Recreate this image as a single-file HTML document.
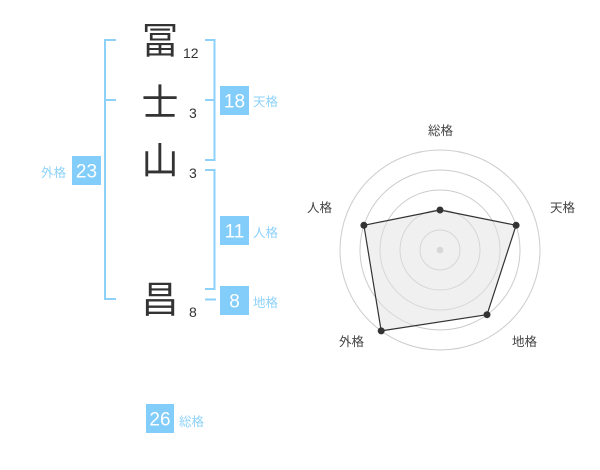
<!DOCTYPE html>
<html><head><meta charset="utf-8"><style>
html,body{margin:0;padding:0;background:#fff;}
svg{display:block;}
text{font-family:"Liberation Sans","Noto Sans CJK JP",sans-serif;}
</style></head><body>
<svg width="600" height="470" viewBox="0 0 600 470" xmlns="http://www.w3.org/2000/svg">
<!-- kanji -->
<g fill="#333" font-size="37" text-anchor="middle" dominant-baseline="central" style="font-family:'Noto Sans CJK JP',sans-serif">
<text x="160" y="41">冨</text>
<text x="160" y="103">士</text>
<text x="160" y="161">山</text>
<text x="160" y="300">昌</text>
</g>
<g fill="#333" font-size="14">
<text x="183" y="58">12</text>
<text x="189" y="118">3</text>
<text x="189" y="178">3</text>
<text x="189" y="317">8</text>
</g>
<!-- brackets -->
<g stroke="#8dd0f8" stroke-width="2" fill="none">
<polyline points="116,40 105,40 105,299 116,299"/>
<line x1="105" y1="100" x2="116" y2="100"/>
<polyline points="205,40 214.5,40 214.5,160 205,160"/>
<line x1="205" y1="100" x2="214.5" y2="100"/>
<polyline points="205,170 214.5,170 214.5,289 205,289"/>
<line x1="205" y1="299.5" x2="216" y2="299.5"/>
</g>
<!-- boxes -->
<g fill="#82cdf9">
<rect x="72" y="156" width="29" height="29"/>
<rect x="220" y="86" width="29" height="29"/>
<rect x="220" y="216" width="29" height="29"/>
<rect x="220" y="286" width="29" height="29"/>
<rect x="146" y="404" width="28" height="29"/>
</g>
<g fill="#fff" font-size="19" text-anchor="middle">
<text x="86.5" y="177.5">23</text>
<text x="234.5" y="107.5">18</text>
<text x="234.5" y="237.5">11</text>
<text x="234.5" y="307.5">8</text>
<text x="160" y="425.5">26</text>
</g>
<g fill="#8ed2fa" font-size="12.5" dominant-baseline="central">
<text x="41" y="173">外格</text>
<text x="253" y="102">天格</text>
<text x="253" y="233">人格</text>
<text x="253" y="303">地格</text>
<text x="179" y="422">総格</text>
</g>
<!-- radar -->
<g fill="none" stroke="#cccccc" stroke-width="1">
<circle cx="440" cy="250" r="20"/>
<circle cx="440" cy="250" r="40"/>
<circle cx="440" cy="250" r="60"/>
<circle cx="440" cy="250" r="80"/>
<circle cx="440" cy="250" r="100"/>
</g>
<circle cx="440" cy="250" r="3.3" fill="#cccccc"/>
<polygon points="440,210 516.1,225.3 487,314.7 381.2,330.9 363.9,225.3" fill="rgba(225,225,225,0.5)" stroke="#333" stroke-width="1.2" stroke-linejoin="round"/>
<g fill="#333">
<circle cx="440" cy="210" r="3.5"/>
<circle cx="516.1" cy="225.3" r="3.5"/>
<circle cx="487" cy="314.7" r="3.5"/>
<circle cx="381.2" cy="330.9" r="3.5"/>
<circle cx="363.9" cy="225.3" r="3.5"/>
</g>
<g fill="#444" font-size="12.5" dominant-baseline="central" text-anchor="middle">
<text x="440.5" y="131">総格</text>
<text x="562.5" y="208">天格</text>
<text x="319.5" y="208">人格</text>
<text x="351.5" y="342">外格</text>
<text x="524.5" y="342">地格</text>
</g>
</svg>
</body></html>
